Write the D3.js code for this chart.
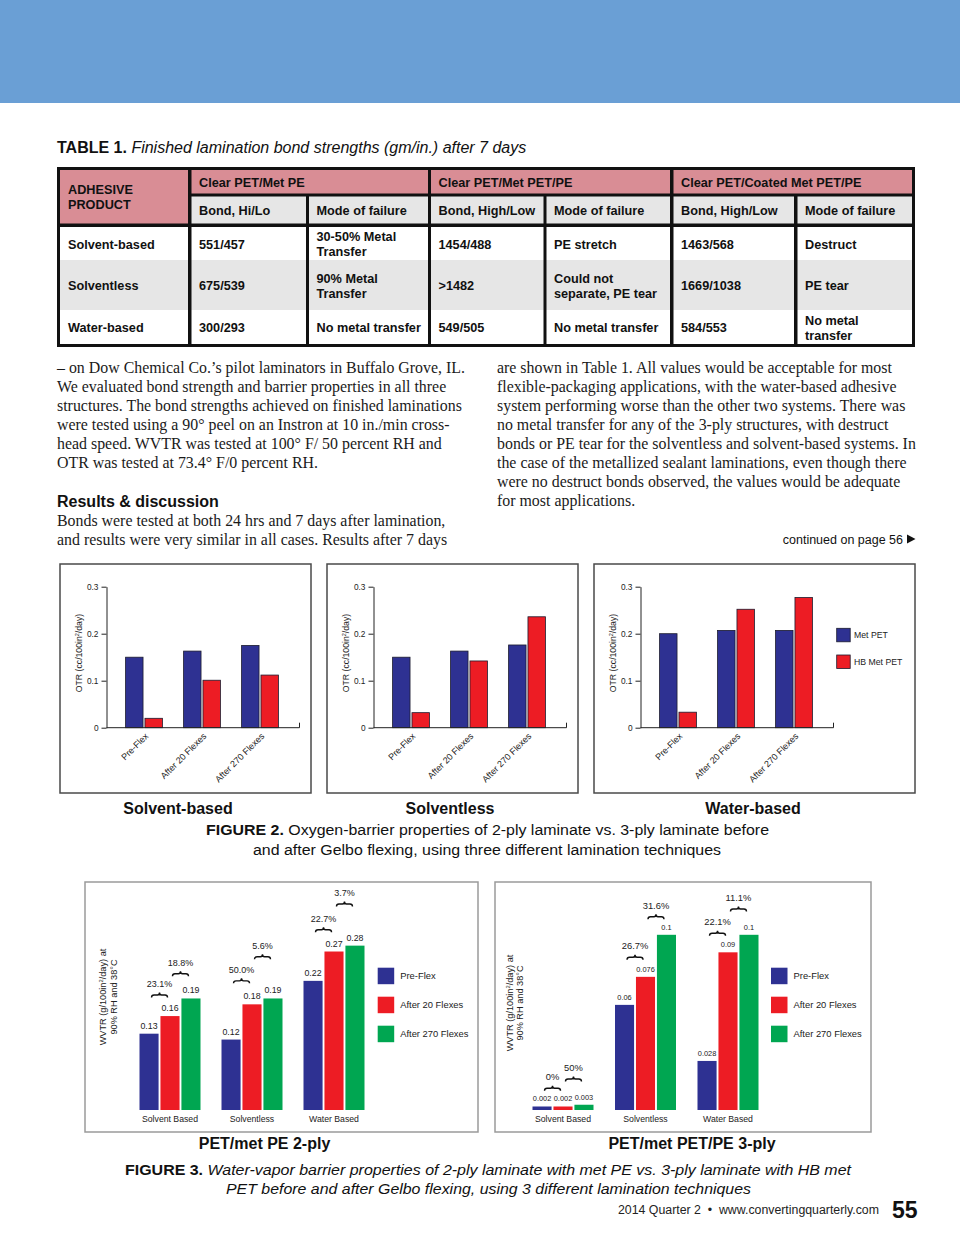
<!DOCTYPE html>
<html><head><meta charset="utf-8">
<script src="https://cdn.jsdelivr.net/npm/d3@7"></script>
<style>body{margin:0;background:#fff} svg{display:block}</style>
</head><body><svg id="page" width="960" height="1245"></svg>
<script>
// ---------------- DATA ----------------
const tableGroups = ["Clear PET/Met PE", "Clear PET/Met PET/PE", "Clear PET/Coated Met PET/PE"];
const tableSubHeaders = ["Bond, Hi/Lo", "Mode of failure", "Bond, High/Low", "Mode of failure", "Bond, High/Low", "Mode of failure"];
const adhesives = ["Solvent-based", "Solventless", "Water-based"];
const tableRows = [
  ["551/457", "30-50% Metal\nTransfer", "1454/488", "PE stretch", "1463/568", "Destruct"],
  ["675/539", "90% Metal\nTransfer", ">1482", "Could not\nseparate, PE tear", "1669/1038", "PE tear"],
  ["300/293", "No metal transfer", "549/505", "No metal transfer", "584/553", "No metal\ntransfer"]
];
const leftColumnLines = [
  "– on Dow Chemical Co.’s pilot laminators in Buffalo Grove, IL.",
  "We evaluated bond strength and barrier properties in all three",
  "structures. The bond strengths achieved on finished laminations",
  "were tested using a 90° peel on an Instron at 10 in./min cross-",
  "head speed. WVTR was tested at 100° F/ 50 percent RH and",
  "OTR was tested at 73.4° F/0 percent RH."
];
const resultsLines = [
  "Bonds were tested at both 24 hrs and 7 days after lamination,",
  "and results were very similar in all cases. Results after 7 days"
];
const rightColumnLines = [
  "are shown in Table 1. All values would be acceptable for most",
  "flexible-packaging applications, with the water-based adhesive",
  "system performing worse than the other two systems. There was",
  "no metal transfer for any of the 3-ply structures, with destruct",
  "bonds or PE tear for the solventless and solvent-based systems. In",
  "the case of the metallized sealant laminations, even though there",
  "were no destruct bonds observed, the values would be adequate",
  "for most applications."
];

// Figure 2 (OTR)
const flexStages = ["Pre-Flex", "After 20 Flexes", "After 270 Flexes"];
const otrSeries = ["Met PET", "HB Met PET"];
const otrPanels = ["Solvent-based", "Solventless", "Water-based"];
const otrMetPET = [[0.15, 0.163, 0.175], [0.15, 0.163, 0.176], [0.2, 0.207, 0.207]];
const otrHBMetPET = [[0.02, 0.101, 0.112], [0.032, 0.142, 0.236], [0.033, 0.252, 0.277]];
const otrTicks = [0, 0.1, 0.2, 0.3];

// Figure 3 (WVTR)
const wvtrCategories = ["Solvent Based", "Solventless", "Water Based"];
const wvtrSeries = ["Pre-Flex", "After 20 Flexes", "After 270 Flexes"];
const wvtr2ply = [[0.13, 0.16, 0.19], [0.12, 0.18, 0.19], [0.22, 0.27, 0.28]];
const wvtr3ply = [[0.002, 0.002, 0.003], [0.06, 0.076, 0.1], [0.028, 0.09, 0.1]];
const wvtr2plyChange = [["23.1%", "18.8%"], ["50.0%", "5.6%"], ["22.7%", "3.7%"]];
const wvtr3plyChange = [["0%", "50%"], ["26.7%", "31.6%"], ["22.1%", "11.1%"]];
const wvtr2plyBraceAt = [[0.196, 0.232], [0.220, 0.261], [0.307, 0.351]];
const wvtr3plyBraceAt = [[0.0124, 0.0177], [0.0872, 0.1103], [0.1009, 0.1147]];

// ---------------- DRAWING ----------------
const svg = d3.select("#page");
const SANS = "'Liberation Sans', Arial, Helvetica, sans-serif";
const SERIF = "'Liberation Serif', 'Times New Roman', Times, serif";
const BLUE = "#2e3192", RED = "#ed1c24", GREEN = "#00a651";
const PINK = "#d98d95", GRAY = "#e6e6e6";

svg.append("rect").attr("width", 960).attr("height", 1245).attr("fill", "#fff");
svg.append("rect").attr("width", 960).attr("height", 103).attr("fill", "#6a9fd5");

// ---- Table title
const tt = svg.append("text").attr("x", 57).attr("y", 153)
  .attr("font-family", SANS).attr("font-size", 16).attr("fill", "#111");
tt.append("tspan").attr("font-weight", "bold").text("TABLE 1. ");
tt.append("tspan").attr("font-style", "italic").text("Finished lamination bond strengths (gm/in.) after 7 days");

// ---- Table
const colEdges = [[60, 188], [191.5, 306], [309, 428], [431, 543.5], [546.5, 670], [673.5, 794], [797.5, 912]];
const rowBands = [[227, 260], [260, 310], [310, 344]];
const tbl = svg.append("g").attr("font-family", SANS).attr("font-weight", "bold").attr("font-size", 12.7).attr("fill", "#111");
tbl.append("rect").attr("x", 57).attr("y", 167).attr("width", 858).attr("height", 180).attr("fill", "#111");

function cellText(x, cy, str) {
  const lines = str.split("\n");
  const lh = 15;
  const t = tbl.append("text").attr("x", x).attr("fill", "#111");
  lines.forEach((ln, i) => {
    t.append("tspan").attr("x", x)
      .attr("y", cy + 4.5 + (i - (lines.length - 1) / 2) * lh).text(ln);
  });
}
// header
tbl.append("rect").attr("x", colEdges[0][0]).attr("y", 170).attr("width", colEdges[0][1] - colEdges[0][0]).attr("height", 53.5).attr("fill", PINK);
cellText(colEdges[0][0] + 8, 197, "ADHESIVE\nPRODUCT");
tableGroups.forEach((gname, gi) => {
  const a = colEdges[1 + 2 * gi], b = colEdges[2 + 2 * gi];
  tbl.append("rect").attr("x", a[0]).attr("y", 170).attr("width", b[1] - a[0]).attr("height", 23.5).attr("fill", PINK);
  cellText(a[0] + 7.5, 182, gname);
});
tableSubHeaders.forEach((h, i) => {
  const c = colEdges[i + 1];
  tbl.append("rect").attr("x", c[0]).attr("y", 196.5).attr("width", c[1] - c[0]).attr("height", 27).attr("fill", GRAY);
  cellText(c[0] + 7.5, 210, h);
});
// body
adhesives.forEach((ad, ri) => {
  const [y0, y1] = rowBands[ri];
  const fill = ri === 1 ? GRAY : "#fff";
  const cells = [ad].concat(tableRows[ri]);
  cells.forEach((txt, ci) => {
    const c = colEdges[ci];
    tbl.append("rect").attr("x", c[0]).attr("y", y0).attr("width", c[1] - c[0]).attr("height", y1 - y0).attr("fill", fill);
    cellText(c[0] + (ci === 0 ? 8 : 7.5), (y0 + y1) / 2 + 0.5, txt);
  });
});

// ---- Body text
const body = svg.append("g").attr("font-family", SERIF).attr("font-size", 15.9).attr("fill", "#1a1a1a");
leftColumnLines.forEach((ln, i) => body.append("text").attr("x", 57).attr("y", 373 + i * 19).text(ln));
svg.append("text").attr("x", 57).attr("y", 507).attr("font-family", SANS).attr("font-weight", "bold")
  .attr("font-size", 16).attr("fill", "#111").text("Results & discussion");
resultsLines.forEach((ln, i) => body.append("text").attr("x", 57).attr("y", 526 + i * 19).text(ln));
rightColumnLines.forEach((ln, i) => body.append("text").attr("x", 497).attr("y", 373 + i * 19).text(ln));
svg.append("text").attr("x", 903).attr("y", 543.5).attr("text-anchor", "end").attr("font-family", SANS)
  .attr("font-size", 12.5).attr("fill", "#111").text("continued on page 56");
svg.append("path").attr("d", "M907,534.5 L915.5,539 L907,543.5 Z").attr("fill", "#111");

// ---- Figure 2
const f2Panels = [{ x: 60, w: 251, tx: 178 }, { x: 327, w: 251, tx: 450 }, { x: 594, w: 321, tx: 753 }];
const f2Top = 564, f2H = 229, f2Base = 727.7;
const y2 = d3.scaleLinear().domain([0, 0.3]).range([f2Base, 586.7]);
const otrData = [otrMetPET, otrHBMetPET];
const otrColor = d3.scaleOrdinal().domain(otrSeries).range([BLUE, RED]);

otrPanels.forEach((pname, pi) => {
  const P = f2Panels[pi];
  const g = svg.append("g");
  g.append("rect").attr("x", P.x).attr("y", f2Top).attr("width", P.w).attr("height", f2H)
    .attr("fill", "#fff").attr("stroke", "#4a4a4a").attr("stroke-width", 1.5);
  const ax = P.x + 46.5;
  const x = d3.scaleBand().domain(flexStages).range([ax + 8.5, ax + 182.5]);
  const xs = d3.scaleBand().domain(otrSeries).range([-18.4, 18.4]).paddingInner(0.1);

  // bars
  flexStages.forEach((st, si) => {
    const cx = x(st) + x.bandwidth() / 2;
    otrSeries.forEach((se, k) => {
      const v = otrData[k][pi][si];
      g.append("rect").attr("x", cx + xs(se)).attr("y", y2(v)).attr("width", xs.bandwidth())
        .attr("height", f2Base - y2(v)).attr("fill", otrColor(se)).attr("stroke", "#1b1b2e").attr("stroke-width", 0.8);
    });
    g.append("text").attr("transform", `translate(${cx + 5},${f2Base + 9}) rotate(-45)`)
      .attr("text-anchor", "end").attr("font-family", SANS).attr("font-size", 9).attr("fill", "#222").text(st);
  });

  // y axis
  const ya = g.append("g").attr("transform", `translate(${ax},0)`)
    .call(d3.axisLeft(y2).tickValues(otrTicks).tickFormat(d => d === 0 ? "0" : d3.format(".1f")(d)).tickSize(5).tickSizeOuter(0).tickPadding(3));
  ya.selectAll("path,line").attr("stroke", "#222").attr("stroke-width", 1);
  ya.selectAll("text").attr("font-family", SANS).attr("font-size", 8.3).attr("fill", "#222");
  // x baseline
  g.append("line").attr("x1", ax).attr("x2", ax + 193).attr("y1", f2Base).attr("y2", f2Base).attr("stroke", "#222");
  g.append("line").attr("x1", ax + 193).attr("x2", ax + 193).attr("y1", f2Base).attr("y2", f2Base - 5).attr("stroke", "#222");
  // y label
  const yl = g.append("text").attr("transform", `translate(${P.x + 22},653) rotate(-90)`)
    .attr("text-anchor", "middle").attr("font-family", SANS).attr("font-size", 8.7).attr("fill", "#222");
  yl.append("tspan").text("OTR (cc/100in");
  yl.append("tspan").attr("font-size", 5.5).attr("dy", -3).text("2");
  yl.append("tspan").attr("dy", 3).text("/day)");

  // panel title
  svg.append("text").attr("x", P.tx).attr("y", 814).attr("text-anchor", "middle").attr("font-family", SANS)
    .attr("font-weight", "bold").attr("font-size", 16).attr("fill", "#111").text(pname);

  if (pi === 2) {
    otrSeries.forEach((se, k) => {
      g.append("rect").attr("x", 836.7).attr("y", 628.3 + k * 26.7).attr("width", 13.5).attr("height", 13.5)
        .attr("fill", otrColor(se)).attr("stroke", "#1b1b2e").attr("stroke-width", 0.8);
      g.append("text").attr("x", 854).attr("y", 638.3 + k * 26.7).attr("font-family", SANS).attr("font-size", 8.7)
        .attr("fill", "#222").text(se);
    });
  }
});

function caption(y, x, len, boldPart, rest, italic) {
  const t = svg.append("text").attr("x", x).attr("y", y).attr("font-family", SANS).attr("font-size", 15.5)
    .attr("fill", "#111").attr("textLength", len).attr("lengthAdjust", "spacingAndGlyphs");
  if (boldPart) t.append("tspan").attr("font-weight", "bold").text(boldPart);
  t.append("tspan").attr("font-style", italic ? "italic" : "normal").text(rest);
}
caption(835, 206, 563, "FIGURE 2. ", "Oxygen-barrier properties of 2-ply laminate vs. 3-ply laminate before", false);
caption(855, 253, 468, null, "and after Gelbo flexing, using three different lamination techniques", false);

// ---- Figure 3
const f3Base = 1110;
const f3Panels = [
  { x: 85, w: 393, vals: wvtr2ply, chg: wvtr2plyChange, brace: wvtr2plyBraceAt, domMax: 0.3, topPx: 1110 - 0.3 * 587,
    centers: [170, 334], vFont: 8.8, pFont: 9, ylx: [106, 116.5], yly: 997, lx: 377.7, sub: "PET/met PE 2-ply", subX: 264.5 },
  { x: 495, w: 376, vals: wvtr3ply, chg: wvtr3plyChange, brace: wvtr3plyBraceAt, domMax: 0.1, topPx: 1110 - 0.1 * 1752,
    centers: [563, 728], vFont: 7.4, pFont: 9.4, ylx: [513, 523], yly: 1003, lx: 771, sub: "PET/met PET/PE 3-ply", subX: 692 }
];
const wColor = d3.scaleOrdinal().domain(wvtrSeries).range([BLUE, RED, GREEN]);

function brace(g, cx, y, w) {
  const x0 = cx - w / 2, x1 = cx + w / 2;
  const d = `M${x0},${y + 2.5} Q${x0},${y} ${x0 + 2.5},${y} L${cx - 2},${y} Q${cx},${y} ${cx},${y - 2.5} Q${cx},${y} ${cx + 2},${y} L${x1 - 2.5},${y} Q${x1},${y} ${x1},${y + 2.5}`;
  g.append("path").attr("d", d).attr("fill", "none").attr("stroke", "#111").attr("stroke-width", 1.4);
}

f3Panels.forEach((P) => {
  const g = svg.append("g");
  g.append("rect").attr("x", P.x).attr("y", 882).attr("width", P.w).attr("height", 250)
    .attr("fill", "#fff").attr("stroke", "#9a9a9a").attr("stroke-width", 1.5);
  const y = d3.scaleLinear().domain([0, P.domMax]).range([f3Base, P.topPx]);
  const x = d3.scalePoint().domain(wvtrCategories).range(P.centers);
  const xs = d3.scaleBand().domain(wvtrSeries).range([-30.5, 30.5]).paddingInner(0.09);
  const half = xs.bandwidth() / 2;

  wvtrCategories.forEach((cat, ci) => {
    const cx = x(cat);
    wvtrSeries.forEach((se, k) => {
      const v = P.vals[ci][k];
      const bx = cx + xs(se);
      g.append("rect").attr("x", bx).attr("y", y(v)).attr("width", xs.bandwidth()).attr("height", f3Base - y(v))
        .attr("fill", wColor(se));
      g.append("text").attr("x", bx + half).attr("y", y(v) - 5).attr("text-anchor", "middle")
        .attr("font-family", SANS).attr("font-size", P.vFont).attr("fill", "#222").text(String(v));
    });
    // change braces
    [0, 1].forEach((j) => {
      const a = cx + xs(wvtrSeries[j]) + half, b = cx + xs(wvtrSeries[j + 1]) + half;
      const by = y(P.brace[ci][j]);
      brace(g, (a + b) / 2, by, 16);
      g.append("text").attr("x", (a + b) / 2).attr("y", by - 8).attr("text-anchor", "middle")
        .attr("font-family", SANS).attr("font-size", P.pFont).attr("fill", "#222").text(P.chg[ci][j]);
    });
    g.append("text").attr("x", cx).attr("y", 1122).attr("text-anchor", "middle").attr("font-family", SANS)
      .attr("font-size", 8.7).attr("fill", "#222").text(cat);
  });

  // y label (two lines)
  const l1 = g.append("text").attr("transform", `translate(${P.ylx[0]},${P.yly}) rotate(-90)`)
    .attr("text-anchor", "middle").attr("font-family", SANS).attr("font-size", 9.2).attr("fill", "#222");
  l1.append("tspan").text("WVTR (g/100in");
  l1.append("tspan").attr("font-size", 5.8).attr("dy", -3).text("2");
  l1.append("tspan").attr("dy", 3).text("/day) at");
  g.append("text").attr("transform", `translate(${P.ylx[1]},${P.yly}) rotate(-90)`)
    .attr("text-anchor", "middle").attr("font-family", SANS).attr("font-size", 9.2).attr("fill", "#222")
    .text("90% RH and 38°C");

  // legend
  wvtrSeries.forEach((se, k) => {
    g.append("rect").attr("x", P.lx).attr("y", 967.7 + k * 29).attr("width", 16.5).attr("height", 16.5).attr("fill", wColor(se));
    g.append("text").attr("x", P.lx + 22.5).attr("y", 979.3 + k * 29).attr("font-family", SANS).attr("font-size", 9.4)
      .attr("fill", "#222").text(se);
  });

  svg.append("text").attr("x", P.subX).attr("y", 1149).attr("text-anchor", "middle").attr("font-family", SANS)
    .attr("font-weight", "bold").attr("font-size", 16).attr("fill", "#111").text(P.sub);
});

caption(1175, 125, 726, "FIGURE 3. ", "Water-vapor barrier properties of 2-ply laminate with met PE vs. 3-ply laminate with HB met", true);
caption(1194, 226, 525, null, "PET before and after Gelbo flexing, using 3 different lamination techniques", true);

// ---- Footer
svg.append("text").attr("x", 618).attr("y", 1214).attr("font-family", SANS).attr("font-size", 12)
  .attr("fill", "#222").attr("textLength", 261).attr("lengthAdjust", "spacingAndGlyphs")
  .text("2014 Quarter 2 \u00a0•\u00a0 www.convertingquarterly.com");
svg.append("text").attr("x", 892).attr("y", 1218).attr("font-family", SANS).attr("font-weight", "bold")
  .attr("font-size", 23).attr("fill", "#111").text("55");
</script></body></html>
